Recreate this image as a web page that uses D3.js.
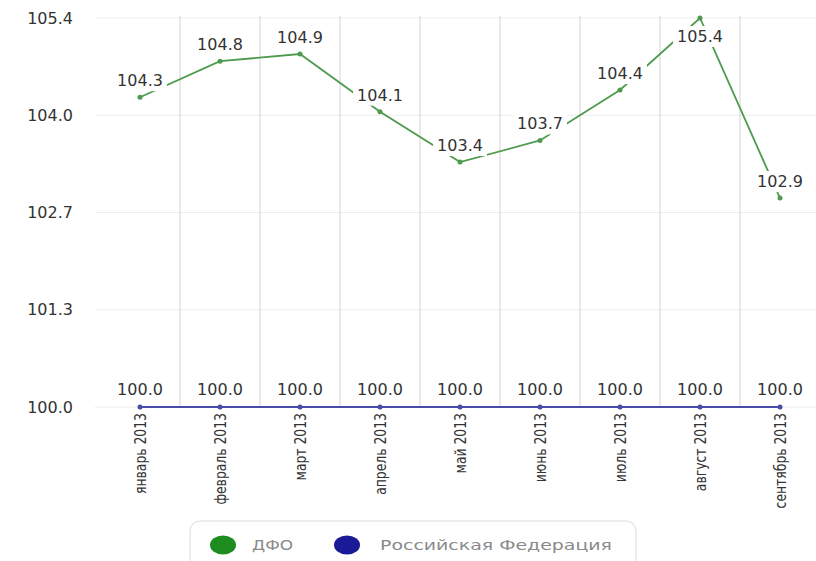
<!DOCTYPE html>
<html><head><meta charset="utf-8">
<script src="https://cdn.jsdelivr.net/npm/d3@7"></script>
<style>html,body{margin:0;padding:0;background:#fff;}svg{display:block;}</style>
</head><body>
<svg id="c" width="816" height="561"></svg>
<script>
const months = ["январь 2013","февраль 2013","март 2013","апрель 2013","май 2013","июнь 2013","июль 2013","август 2013","сентябрь 2013"];
const dfo = [104.3,104.8,104.9,104.1,103.4,103.7,104.4,105.4,102.9];
const rf = [100.0,100.0,100.0,100.0,100.0,100.0,100.0,100.0,100.0];
const yTickValues = [100,101.35,102.7,104.05,105.4];
const yTickLabels = ["100.0","101.3","102.7","104.0","105.4"];
const seriesNames = ["ДФО","Российская Федерация"];

const svg = d3.select("#c");
const font = "DejaVu Sans, Verdana, sans-serif";
const x = d3.scaleBand().domain(months).range([100,820]);
const y = d3.scaleLinear().domain([100,105.4]).range([407,18]);
const cx = d => x(d) + x.bandwidth()/2;

// horizontal grid
svg.append("g").selectAll("line").data(yTickValues).join("line")
  .attr("x1",95).attr("x2",816).attr("y1",d=>y(d)).attr("y2",d=>y(d))
  .attr("stroke","#ececec").attr("stroke-width",1);
// vertical grid
svg.append("g").selectAll("line").data(months.slice(1)).join("line")
  .attr("x1",d=>x(d)).attr("x2",d=>x(d)).attr("y1",16).attr("y2",407)
  .attr("stroke","#d4d4d4").attr("stroke-width",1);

// y axis labels
const yAxis = d3.axisLeft(y).tickValues(yTickValues).tickFormat((d,i)=>yTickLabels[i]).tickSize(0).tickPadding(0);
const ya = svg.append("g").attr("transform","translate(73,0)").call(yAxis);
ya.select(".domain").remove();
ya.selectAll("text").attr("font-family",font).attr("font-size",16).attr("fill","#333");

// x axis labels
const xAxis = d3.axisBottom(x).tickSize(0).tickPadding(0);
const xa = svg.append("g").attr("transform","translate(0,413)").call(xAxis);
xa.select(".domain").remove();
xa.selectAll("text").attr("font-family",font).attr("font-size",15.5).attr("fill","#333")
  .attr("text-anchor","end").attr("dy",null).attr("y",0)
  .attr("transform","rotate(-90) scale(0.8,1) translate(0,5.5)");

// lines
const green = "#4e9a4e", blue = "#4a4aa8";
const lineG = d3.line().x((d,i)=>cx(months[i])).y(d=>y(d));
svg.append("path").datum(rf).attr("d",lineG).attr("fill","none").attr("stroke",blue).attr("stroke-width",2);
svg.append("path").datum(dfo).attr("d",lineG).attr("fill","none").attr("stroke",green).attr("stroke-width",1.8);
svg.append("g").selectAll("circle").data(rf).join("circle")
  .attr("cx",(d,i)=>cx(months[i])).attr("cy",d=>y(d)).attr("r",2.5).attr("fill",blue);
svg.append("g").selectAll("circle").data(dfo).join("circle")
  .attr("cx",(d,i)=>cx(months[i])).attr("cy",d=>y(d)).attr("r",2.5).attr("fill",green);

// value labels with white background
function labels(data, offsetFn){
  const g = svg.append("g");
  data.forEach((v,i)=>{
    const lg = g.append("g");
    const t = lg.append("text").attr("x",cx(months[i])).attr("y",y(v)+offsetFn(v,i))
      .attr("text-anchor","middle").attr("font-family",font).attr("font-size",16).attr("fill","#333")
      .text(v.toFixed(1));
    const b = t.node().getBBox();
    lg.insert("rect","text").attr("x",b.x-4).attr("y",b.y-1).attr("width",b.width+8).attr("height",b.height+2).attr("fill","#fff");
  });
}
labels(dfo,(v,i)=> v>=105.3 ? 24 : -11);
labels(rf,()=> -12);

// legend
const lg = svg.append("g");
lg.append("rect").attr("x",190).attr("y",521).attr("width",446).attr("height",60).attr("rx",10)
  .attr("fill","#fff").attr("stroke","#dcdcdc");
const legendColors = ["#1e8c1e","#1a1a96"];
const legX = [223,347], legTX = [252,380], legTL = [41,232];
seriesNames.forEach((n,i)=>{
  lg.append("ellipse").attr("cx",legX[i]).attr("cy",545).attr("rx",13).attr("ry",9.5).attr("fill",legendColors[i]);
  lg.append("text").attr("x",legTX[i]).attr("y",550).attr("font-family",font).attr("font-size",14)
    .attr("fill","#8a8a8a").attr("textLength",legTL[i]).attr("lengthAdjust","spacingAndGlyphs").text(n);
});
</script>
</body></html>
